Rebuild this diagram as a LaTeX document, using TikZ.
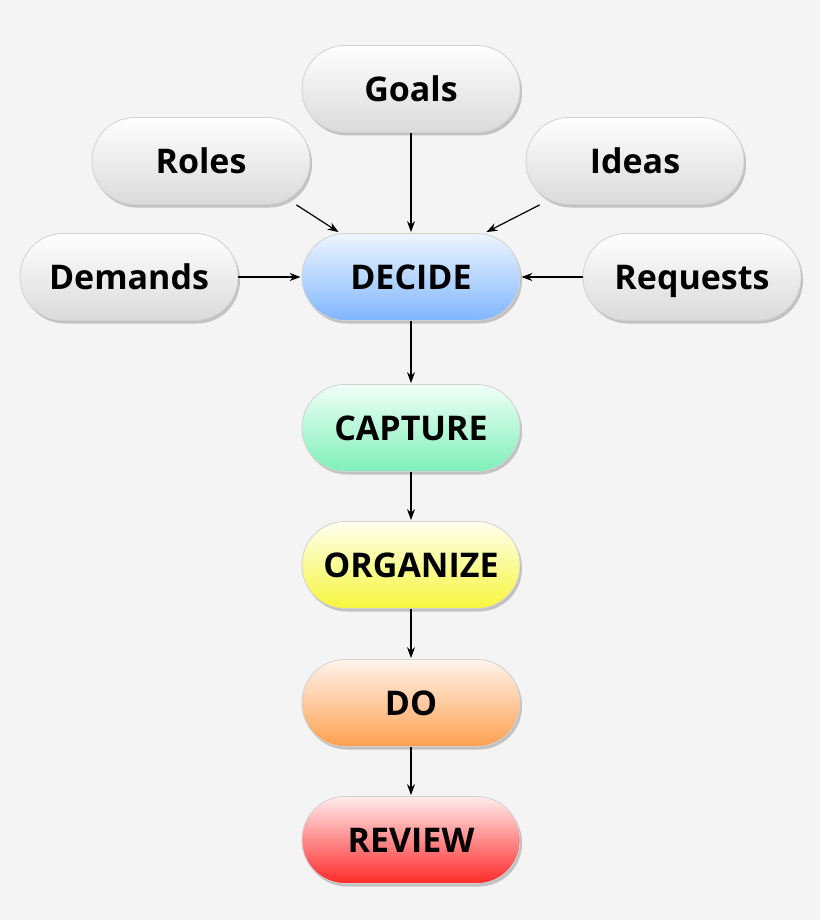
\documentclass[tikz,border=0pt]{standalone}
\usepackage{fontspec}
\setmainfont{Open Sans}
\usetikzlibrary{arrows.meta,shadows}
\definecolor{bg}{HTML}{F4F4F4}
\definecolor{grayb}{HTML}{DADADA}
\definecolor{blueb}{HTML}{80B6FF}
\definecolor{bluet}{HTML}{EEF5FF}
\definecolor{mintb}{HTML}{7EF0B8}
\definecolor{mintt}{HTML}{F0FFF8}
\definecolor{yelb}{HTML}{F6F63C}
\definecolor{yelt}{HTML}{FFFFF0}
\definecolor{orab}{HTML}{FFA050}
\definecolor{orat}{HTML}{FFF4EC}
\definecolor{redb}{HTML}{FF2A2A}
\definecolor{redt}{HTML}{FFECEC}
\tikzset{
  pill/.style={rectangle, rounded corners=43pt, minimum width=218pt, minimum height=87pt,
    draw=black!18, line width=0.8pt, inner sep=0pt,
    text height=24.3pt, text depth=0pt,
    font=\fontsize{34}{40}\selectfont\bfseries, text=black,
    drop shadow={shadow xshift=2pt, shadow yshift=-3pt, opacity=0.35, fill=black!60}},
  graypill/.style={pill, top color=white, bottom color=grayb},
  conn/.style={-{Stealth[length=11pt,width=8pt]}, line width=1.2pt, black}
}
\begin{document}
\begin{tikzpicture}[x=1pt,y=-1pt]
\fill[bg] (0,0) rectangle (820,920);
\useasboundingbox (0,0) rectangle (820,920);
\node[graypill] (goals) at (411,89) {Goals};
\node[graypill] (roles) at (201,161) {Roles};
\node[graypill] (ideas) at (635,161) {Ideas};
\node[graypill] (demands) at (129,277) {Demands};
\node[graypill] (requests) at (692,277) {Requests};
\node[pill, top color=bluet, bottom color=blueb] (decide) at (411,277) {DECIDE};
\node[pill, top color=mintt, bottom color=mintb] (capture) at (411,428) {CAPTURE};
\node[pill, top color=yelt, bottom color=yelb] (organize) at (411,565) {ORGANIZE};
\node[pill, top color=orat, bottom color=orab] (do) at (411,703) {DO};
\node[pill, top color=redt, bottom color=redb] (review) at (411,840) {REVIEW};
\draw[conn] (goals.south) -- ([yshift=1pt]decide.north);
\draw[conn] ([xshift=-14pt]roles.south east) -- ([xshift=37pt,yshift=1pt]decide.north west);
\draw[conn] ([xshift=14pt]ideas.south west) -- ([xshift=-34pt,yshift=1pt]decide.north east);
\draw[conn] (demands.east) -- ([xshift=-1pt]decide.west);
\draw[conn] (requests.west) -- ([xshift=1pt]decide.east);
\draw[conn] (decide.south) -- ([yshift=1pt]capture.north);
\draw[conn] (capture.south) -- ([yshift=1pt]organize.north);
\draw[conn] (organize.south) -- ([yshift=1pt]do.north);
\draw[conn] (do.south) -- ([yshift=1pt]review.north);
\end{tikzpicture}
\end{document}
